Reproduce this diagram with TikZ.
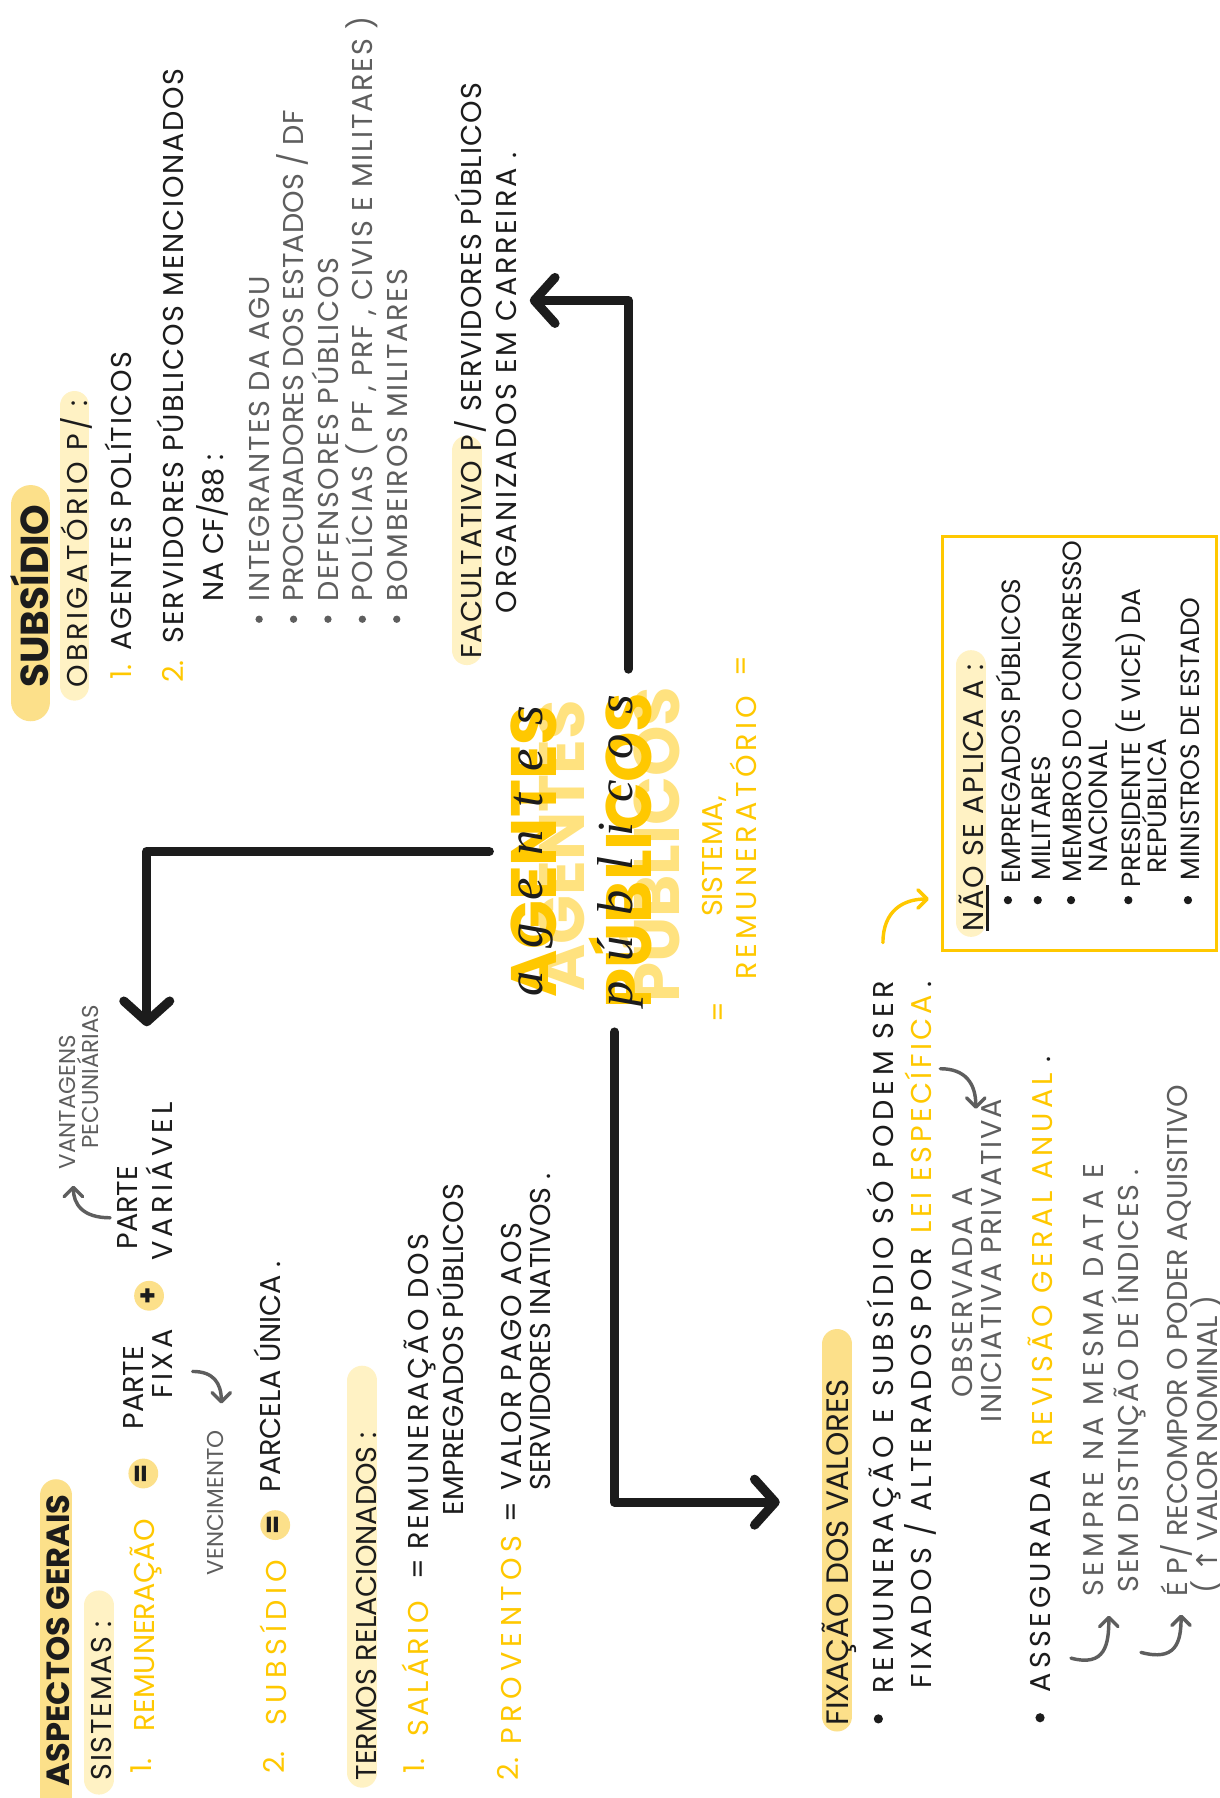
\documentclass[tikz,border=0pt]{standalone}
\usepackage{fontspec}
\newfontfamily\hand{Poppins}
\newfontfamily\pena{Liberation Serif}
\newfontfamily\simb{DejaVu Sans}
\usetikzlibrary{arrows.meta}
\definecolor{ouro}{HTML}{FFC800}
\definecolor{hlforte}{HTML}{FCE08A}
\definecolor{hlclaro}{HTML}{FFF2C4}
\definecolor{sombra}{HTML}{FFE27F}
\definecolor{tinta}{HTML}{1C1C1C}
\definecolor{grisa}{HTML}{5E5E5E}

\begin{document}
\begin{tikzpicture}[x=0.5pt,y=-0.5pt,
    txt/.style={rotate=90,anchor=base west,inner sep=0pt,text=tinta,font=\hand\fontsize{12.5}{14}\selectfont},
    esp/.style={font=\hand\fontsize{12.5}{14}\selectfont\addfontfeatures{LetterSpace=#1}},
    amarelo/.style={txt,text=ouro},
    cinza/.style={txt,text=grisa},
    caixa/.style={txt,font=\hand\fontsize{11.5}{13}\selectfont},
    miudo/.style={txt,text=grisa,font=\hand\fontsize{10}{11}\selectfont},
    negrito/.style={txt,font=\hand\bfseries\fontsize{14}{16}\selectfont},
    titulo/.style={txt,text=ouro,font=\hand\bfseries\fontsize{28}{30}\selectfont},
    cursiva/.style={rotate=90,inner sep=0pt,text=tinta,font=\pena\itshape\fontsize{22}{24}\selectfont\addfontfeatures{LetterSpace=#1}},
    bola/.style={circle,fill=hlforte,inner sep=0pt,minimum size=13pt,rotate=90,text=tinta,font=\hand\bfseries\fontsize{12}{12}\selectfont},
    marca/.style={line width=13pt,line cap=round,draw=hlclaro},
    marcaforte/.style={marca,draw=hlforte},
    seta/.style={line width=4pt,draw=tinta,line cap=round,line join=round,-{Straight Barb[round,length=9pt,width=20pt]}},
    curva/.style={line width=1.5pt,draw=grisa,line cap=round,-{Straight Barb[round,length=4pt,width=8pt]}}]
    \useasboundingbox (0,0) rectangle (1063.5,1568);
    \fill[white] (0,0) rectangle (1063.5,1568);

    % titulo central
    \node[titulo,text=sombra] (agentesS) at (510,865) {AGENTES};
    \node[titulo] (agentes) at (485,870) {AGENTES};
    \node[titulo,text=sombra] (publicosS) at (593,875) {PÚBLICOS};
    \node[titulo] (publicos) at (568,880) {PÚBLICOS};
    \node[cursiva=45] (agentesC) at (agentes.center) {agentes};
    \node[cursiva=40] (publicosC) at (publicos.center) {públicos};
    \node[amarelo] (igualA) at (635,892) {=};
    \node[amarelo] (sistema) at (630,800) {SISTEMA,};
    \node[amarelo,esp=15] (remun) at (660,855) {REMUNERATÓRIO};
    \node[amarelo] (igualB) at (655,590) {=};

    % setas
    \coordinate (pontaE) at (128,895);
    \coordinate (pontaN) at (462,262);
    \coordinate (pontaS) at (680,1310);
    \draw[seta] (agentes.north) ++(-18,0) -| (pontaE);
    \draw[seta] (publicos.east) ++(7,-20) |- (pontaN);
    \draw[seta] (publicos.west) ++(-5,20) |- (pontaS);

    % subsidio
    \draw[marcaforte,line width=17pt] (27,440) -- (27,612);
    \node[negrito,font=\hand\bfseries\fontsize{17}{19}\selectfont] (subsidio) at (42,600) {SUBSÍDIO};
    \draw[marca] (65,354) -- (65,598);
    \node[txt,esp=12] (obrig) at (76,600) {OBRIGATÓRIO P/ :};
    \node[amarelo] (n1) at (115,593) {1.};
    \node[txt,esp=6] (agpol) at (115,568) {AGENTES POLÍTICOS};
    \node[amarelo] (n2) at (160,596) {2.};
    \node[txt,esp=6] (servid) at (160,562) {SERVIDORES PÚBLICOS MENCIONADOS};
    \node[txt] (cf) at (195,525) {NA CF/88 :};
    \foreach \i in {1,...,5}
        \fill[grisa] (196+30*\i,540) circle[radius=1.6pt];
    \node[cinza,esp=6] (item1) at (235,525) {INTEGRANTES DA AGU};
    \node[cinza] (item2) at (265,525) {PROCURADORES DOS ESTADOS / DF};
    \node[cinza,esp=6] (item3) at (295,525) {DEFENSORES PÚBLICOS};
    \node[cinza,esp=6] (item4) at (325,525) {POLÍCIAS ( PF , PRF , CIVIS E MILITARES )};
    \node[cinza,esp=6] (item5) at (355,525) {BOMBEIROS MILITARES};
    \draw[marca] (407,393) -- (407,567);
    \node[txt,esp=4] (facult) at (420,575) {FACULTATIVO P/ SERVIDORES PÚBLICOS};
    \node[txt,esp=9] (organiz) at (450,535) {ORGANIZADOS EM CARREIRA .};

    % aspectos gerais
    \draw[marcaforte,line width=14pt] (49,1304) -- (49,1600);
    \node[negrito] (aspectos) at (61,1558) {ASPECTOS GERAIS};
    \draw[marca] (86,1400) -- (86,1552);
    \node[txt,esp=6] (sistemas) at (97,1553) {SISTEMAS :};
    \node[amarelo] (s1) at (132,1547) {1.};
    \node[amarelo] (remunera) at (135,1510) {REMUNERAÇÃO};
    \node[bola] (igual1) at (125,1285) {=};
    \node[txt] (parteF) at (125,1247) {PARTE};
    \node[txt,esp=12] (fixa) at (150,1220) {FIXA};
    \node[bola] (mais) at (130,1130) {+};
    \node[txt] (parteV) at (120,1090) {PARTE};
    \node[txt,esp=15] (variavel) at (150,1100) {VARIÁVEL};
    \node[miudo] (vencim) at (195,1374) {VENCIMENTO};
    \node[miudo] (vantag) at (66,1020) {VANTAGENS};
    \node[miudo] (pecun) at (86,1002) {PECUNIÁRIAS};
    \coordinate (vencA) at (168,1196);
    \coordinate (vencB) at (193,1224);
    \draw[curva] (vencA) .. controls +(18,0) and +(0,-18) .. (vencB);
    \coordinate (vantA) at (96,1062);
    \coordinate (vantB) at (64,1034);
    \draw[curva] (vantA) .. controls +(-24,0) and +(0,16) .. (vantB);
    \node[amarelo] (s2) at (248,1547) {2.};
    \node[amarelo,esp=19] (subs2) at (250,1505) {SUBSÍDIO};
    \node[bola] (igual2) at (240,1330) {=};
    \node[txt] (parcela) at (245,1302) {PARCELA ÚNICA .};
    \draw[marca] (316,1204) -- (316,1546);
    \node[txt] (termos) at (328,1553) {TERMOS RELACIONADOS :};
    \node[amarelo] (t1) at (370,1547) {1.};
    \node[amarelo,esp=12] (salario) at (374,1515) {SALÁRIO};
    \node[txt] (igual3) at (374,1378) {=};
    \node[txt,esp=10] (salA) at (374,1352) {REMUNERAÇÃO DOS};
    \node[txt] (salB) at (404,1322) {EMPREGADOS PÚBLICOS};
    \node[amarelo] (t2) at (452,1553) {2.};
    \node[amarelo,esp=19] (proventos) at (455,1522) {PROVENTOS};
    \node[txt] (igual4) at (455,1328) {=};
    \node[txt,esp=7] (provA) at (455,1300) {VALOR PAGO AOS};
    \node[txt] (provB) at (480,1300) {SERVIDORES INATIVOS .};

    % nao se aplica
    \draw[ouro,line width=1.6pt] (822,468) rectangle (1061,829);
    \draw[marca] (847,580) -- (847,804);
    \node[txt,esp=6] (naoSe) at (858,813) {NÃO SE APLICA A :};
    \draw[tinta,line width=1.3pt] (861,772) -- (861,812);
    \foreach \bx in {879,905,934,984,1036}
        \fill[tinta] (\bx,785) circle[radius=1.8pt];
    \node[caixa] (empreg) at (890,771) {EMPREGADOS PÚBLICOS};
    \node[caixa] (milit) at (916,768) {MILITARES};
    \node[caixa] (membros) at (943,770) {MEMBROS DO CONGRESSO};
    \node[caixa] (nacional) at (966,761) {NACIONAL};
    \node[caixa] (presid) at (995,774) {PRESIDENTE (E VICE) DA};
    \node[caixa] (republica) at (1017,762) {REPÚBLICA};
    \node[caixa] (ministros) at (1046,768) {MINISTROS DE ESTADO};
    \coordinate (caixaA) at (770,822);
    \coordinate (caixaB) at (810,784);
    \draw[curva,draw=ouro] (caixaA) .. controls +(0,-28) and +(-22,0) .. (caixaB);

    % fixacao dos valores
    \draw[marcaforte] (730,1172) -- (730,1497);
    \node[txt,font=\hand\fontsize{13.5}{15}\selectfont] (fixacao) at (740,1505) {FIXAÇÃO DOS VALORES};
    \fill[tinta] (766,1499) circle[radius=2pt];
    \node[txt,esp=16] (fixA) at (779,1477) {REMUNERAÇÃO E SUBSÍDIO SÓ PODEM SER};
    \node[txt,esp=13] (fixB) at (812,1473) {FIXADOS / ALTERADOS POR};
    \node[amarelo,esp=12] (lei) at (812,1076) {LEI ESPECÍFICA};
    \node[txt] (fixPonto) at (812,862) {.};
    \node[cinza,esp=6] (observ) at (848,1219) {OBSERVADA A};
    \node[cinza,esp=6] (inic) at (873,1241) {INICIATIVA PRIVATIVA};
    \coordinate (leiA) at (820,932);
    \coordinate (leiB) at (851,967);
    \draw[curva] (leiA) .. controls +(22,0) and +(0,-22) .. (leiB);
    \fill[tinta] (907,1498) circle[radius=2pt];
    \node[txt,esp=14] (assegur) at (916,1476) {ASSEGURADA};
    \node[amarelo,esp=14] (revisao) at (918,1262) {REVISÃO GERAL ANUAL};
    \node[txt] (revPonto) at (916,927) {.};
    \node[cinza,esp=14] (sempreA) at (962,1393) {SEMPRE NA MESMA DATA E};
    \node[cinza,esp=6] (sempreB) at (993,1389) {SEM DISTINÇÃO DE ÍNDICES .};
    \node[cinza] (recompA) at (1036,1393) {É P/ RECOMPOR O PODER AQUISITIVO};
    \node[cinza] (recompB) at (1062,1390) {( {\simb ↑} VALOR NOMINAL )};
    \coordinate (semA) at (934,1446);
    \coordinate (semB) at (967,1409);
    \draw[curva] (semA) .. controls +(30,8) and +(0,25) .. (semB);
    \coordinate (recA) at (995,1441);
    \coordinate (recB) at (1030,1408);
    \draw[curva] (recA) .. controls +(30,8) and +(0,25) .. (recB);
\end{tikzpicture}
\end{document}
